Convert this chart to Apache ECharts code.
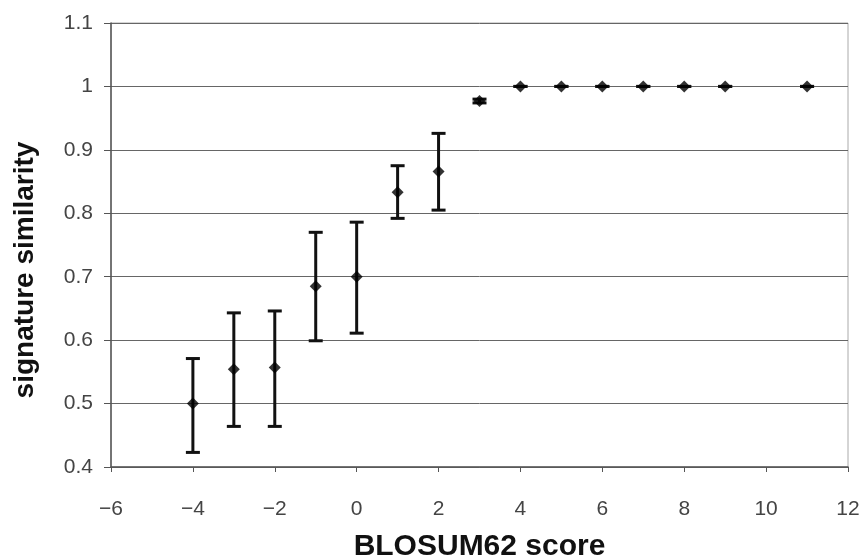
<!DOCTYPE html>
<html>
<head>
<meta charset="utf-8">
<script src="https://cdn.jsdelivr.net/npm/echarts@6/dist/echarts.min.js"></script>
<style>html,body{margin:0;padding:0;background:#fff}#c{width:860px;height:558px}</style>
</head>
<body>
<div id="c"></div>
<script>
var scores = [-4, -3, -2, -1, 0, 1, 2, 3, 4, 5, 6, 7, 8, 9, 11];
var meanSim = [0.500, 0.554, 0.557, 0.685, 0.700, 0.833, 0.866, 0.977, 1, 1, 1, 1, 1, 1, 1];
var upperSim = [0.571, 0.643, 0.646, 0.770, 0.786, 0.875, 0.926, 0.980, 1, 1, 1, 1, 1, 1, 1];
var lowerSim = [0.423, 0.464, 0.464, 0.599, 0.611, 0.792, 0.805, 0.974, 1, 1, 1, 1, 1, 1, 1];

var pointData = scores.map(function (x, i) { return [x, meanSim[i]]; });
var barData = scores.map(function (x, i) { return [x, lowerSim[i], upperSim[i]]; });

var chart = echarts.init(document.getElementById('c'), null, {renderer: 'canvas'});
var font = '"Liberation Sans", Arial, sans-serif';
chart.setOption({
  backgroundColor: '#ffffff',
  animation: false,
  grid: {left: 111, right: 12, top: 23, bottom: 91, containLabel: false, outerBoundsMode: 'none',
    show: true, borderColor: '#aaaaaa', borderWidth: 1},
  xAxis: {
    type: 'value', min: -6, max: 12, interval: 2,
    name: 'BLOSUM62 score', nameLocation: 'middle', nameGap: 65,
    nameTextStyle: {fontFamily: font, fontSize: 30, fontWeight: 'bold', color: '#111'},
    axisLine: {show: true, onZero: false, lineStyle: {color: '#555', width: 1.5}},
    axisTick: {show: true, inside: false, length: 5, lineStyle: {color: '#555'}},
    axisLabel: {fontFamily: font, fontSize: 21, color: '#444', margin: 32,
      formatter: function (v) { return String(v).replace('-', '\u2212'); }},
    splitLine: {show: false}
  },
  yAxis: {
    type: 'value', min: 0.4, max: 1.1, interval: 0.1,
    name: 'signature similarity', nameLocation: 'middle', nameGap: 72,
    nameTextStyle: {fontFamily: font, fontSize: 28, fontWeight: 'bold', color: '#111', padding: [0, 50, 0, 0]},
    axisLine: {show: true, onZero: false, lineStyle: {color: '#555', width: 1.5}},
    axisTick: {show: true, inside: false, length: 7, lineStyle: {color: '#555'}},
    axisLabel: {fontFamily: font, fontSize: 21, color: '#444', margin: 18,
      formatter: function (v) { return String(Math.round(v * 10) / 10); }},
    splitLine: {show: true, lineStyle: {color: '#666', width: 1}}
  },
  series: [
    {
      type: 'custom',
      data: barData,
      z: 3,
      renderItem: function (params, api) {
        var x = api.value(0);
        var lo = api.coord([x, api.value(1)]);
        var hi = api.coord([x, api.value(2)]);
        var cap = 7;
        var style = {stroke: '#111', lineWidth: 3};
        return {
          type: 'group',
          children: [
            {type: 'line', shape: {x1: lo[0], y1: lo[1], x2: hi[0], y2: hi[1]}, style: style},
            {type: 'line', shape: {x1: lo[0] - cap, y1: lo[1], x2: lo[0] + cap, y2: lo[1]}, style: style},
            {type: 'line', shape: {x1: hi[0] - cap, y1: hi[1], x2: hi[0] + cap, y2: hi[1]}, style: style}
          ]
        };
      }
    },
    {
      type: 'scatter',
      data: pointData,
      symbol: 'diamond',
      symbolSize: [12, 12],
      itemStyle: {color: '#000'},
      z: 4
    }
  ]
});
</script>
</body>
</html>
